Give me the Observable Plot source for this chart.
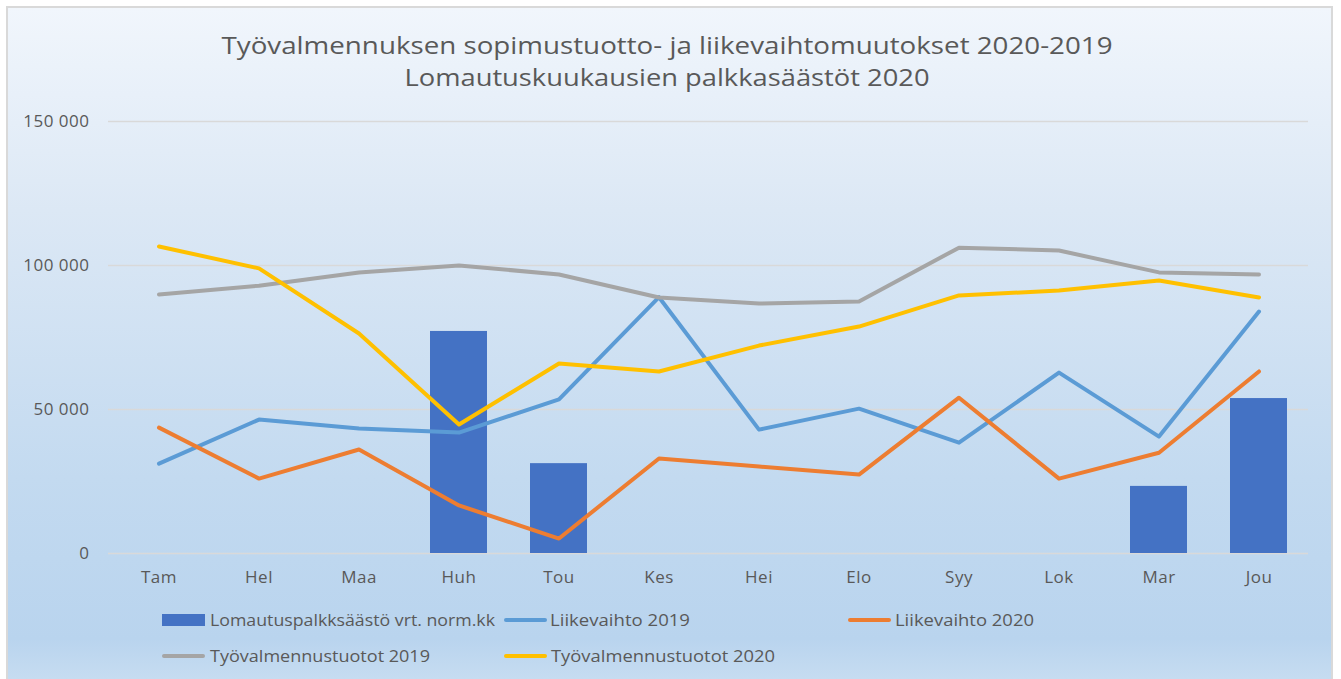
<!DOCTYPE html>
<html>
<head>
<meta charset="utf-8">
<script src="https://cdn.jsdelivr.net/npm/d3@7"></script>
<script src="https://cdn.jsdelivr.net/npm/@observablehq/plot@0.6"></script>
<style>
  html, body { margin: 0; padding: 0; background: #ffffff; }
  #wrap { position: relative; width: 1341px; height: 679px; overflow: hidden; background: #ffffff; font-family: "Open Sans", sans-serif; }
  #frame { position: absolute; left: 6px; top: 6px; width: 1327px; height: 673px; border: 2px solid #d9d9d9; border-bottom: none; box-sizing: border-box;
           background: linear-gradient(to bottom, #f1f6fc 0%, #dce8f5 30%, #c3daf0 70%, #b9d4ee 94%, #c6dcf1 100%); }
  #chart, #overlay { position: absolute; left: 0; top: 0; }
  #chart text { letter-spacing: 0.5px; }
</style>
</head>
<body>
<div id="wrap">
  <div id="frame"></div>
  <div id="chart"></div>
  <svg id="overlay" width="1341" height="679"></svg>
</div>
<script>
// ---- data ----
const months = ["Tam","Hel","Maa","Huh","Tou","Kes","Hei","Elo","Syy","Lok","Mar","Jou"];
const lomautus  = [null, null, null, 77100, 31200, null, null, null, null, null, 23300, 53800];
const liike2019 = [31200, 46500, 43400, 42000, 53500, 89000, 43000, 50300, 38500, 62800, 40600, 84000];
const liike2020 = [43700, 26000, 36100, 16700, 5200, 33000, 30200, 27400, 54100, 26000, 35000, 63200];
const tyo2019   = [89900, 93000, 97600, 100000, 96900, 88900, 86800, 87500, 106200, 105200, 97600, 96900];
const tyo2020   = [106600, 99000, 76400, 44800, 66000, 63200, 72200, 78800, 89600, 91300, 94800, 88900];
const yTicks = [0, 50000, 100000, 150000];
const seriesNames = ["Lomautuspalkksäästö vrt. norm.kk", "Liikevaihto 2019", "Liikevaihto 2020", "Työvalmennustuotot 2019", "Työvalmennustuotot 2020"];
const seriesColors = ["#4472c4", "#5b9bd5", "#ed7d31", "#a5a5a5", "#ffc000"];
const titleLines = ["Työvalmennuksen sopimustuotto- ja liikevaihtomuutokset 2020-2019", "Lomautuskuukausien palkkasäästöt 2020"];

// ---- tables ----
const barData = months.map((m, i) => ({month: m, v: lomautus[i]})).filter(d => d.v != null);
const lineSeries = [liike2019, liike2020, tyo2019, tyo2020];
const lineData = lineSeries.flatMap((arr, s) => arr.map((v, i) => ({month: months[i], v, s: seriesNames[s + 1]})));

const fmt = d => d3.format(",")(d).replace(/,/g, " ");

const chart = Plot.plot({
  width: 1341,
  height: 600,
  marginTop: 121,
  marginBottom: 47,
  marginLeft: 108,
  marginRight: 33,
  style: {background: "transparent", fontFamily: "Open Sans, sans-serif", fontSize: "17px", color: "#595959"},
  x: {domain: months, paddingInner: 0.43, paddingOuter: 0.215, label: null},
  y: {domain: [0, 150000], label: null},
  color: {domain: seriesNames, range: seriesColors},
  marks: [
    Plot.ruleY(yTicks, {stroke: "#d9d9d9", strokeWidth: 1.3}),
    Plot.barY(barData, {x: "month", y: "v", fill: seriesColors[0]}),
    ...seriesNames.slice(1).map((name, k) =>
      Plot.line(lineData.filter(d => d.s === name), {x: "month", y: "v", stroke: seriesColors[k + 1], strokeWidth: 4, strokeLinecap: "round", strokeLinejoin: "round"})
    ),
    Plot.axisX({tickSize: 0, tickPadding: 17, fontSize: 17, fill: "#595959", label: null}),
    Plot.axisY({ticks: yTicks, tickSize: 0, tickPadding: 19, tickFormat: fmt, fontSize: 17, fill: "#595959", label: null})
  ]
});
document.getElementById("chart").appendChild(chart);

// ---- title & legend overlay ----
const ov = d3.select("#overlay");
const tl = [{t: titleLines[0], y: 54, len: 891}, {t: titleLines[1], y: 86, len: 525}];
ov.selectAll("text.title").data(tl).join("text")
  .attr("class", "title")
  .attr("x", 667).attr("y", d => d.y)
  .attr("text-anchor", "middle")
  .attr("font-family", "Open Sans, sans-serif")
  .attr("font-size", 24)
  .attr("fill", "#595959")
  .attr("textLength", d => d.len)
  .attr("lengthAdjust", "spacingAndGlyphs")
  .text(d => d.t);

const legendItems = [
  {i: 0, sx: 162, tx: 210, y: 620, len: 285},
  {i: 1, sx: 504, tx: 550, y: 620, len: 140},
  {i: 2, sx: 848, tx: 895, y: 620, len: 139},
  {i: 3, sx: 162, tx: 210, y: 656, len: 220},
  {i: 4, sx: 504, tx: 551, y: 656, len: 224}
];
const lg = ov.selectAll("g.lg").data(legendItems).join("g").attr("class", "lg");
lg.each(function(d) {
  const g = d3.select(this);
  if (d.i === 0) {
    g.append("rect").attr("x", d.sx).attr("y", d.y - 6).attr("width", 43).attr("height", 12).attr("fill", seriesColors[0]);
  } else {
    g.append("line").attr("x1", d.sx + 2).attr("x2", d.sx + 41).attr("y1", d.y).attr("y2", d.y)
      .attr("stroke", seriesColors[d.i]).attr("stroke-width", 4).attr("stroke-linecap", "round");
  }
  g.append("text").attr("x", d.tx).attr("y", d.y).attr("dy", "0.35em")
    .attr("font-family", "Open Sans, sans-serif").attr("font-size", 17).attr("fill", "#595959")
    .attr("textLength", d.len).attr("lengthAdjust", "spacingAndGlyphs")
    .text(seriesNames[d.i]);
});
</script>
</body>
</html>
